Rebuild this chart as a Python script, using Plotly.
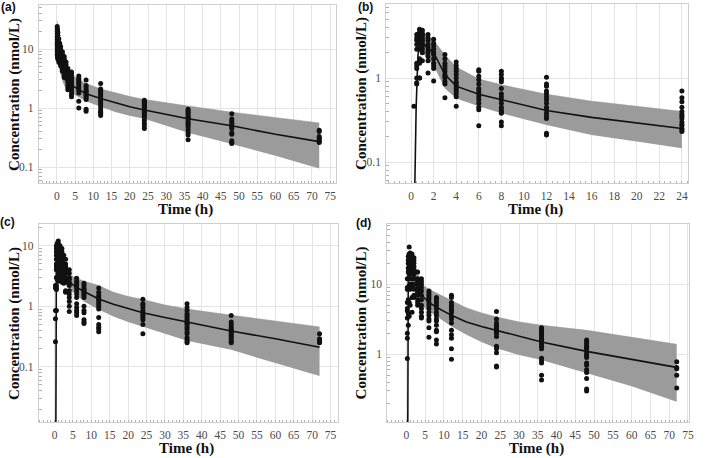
import plotly.graph_objects as go

# ---------------- Panel (a) ----------------
a_obs_times = [0.083, 0.167, 0.25, 0.5, 0.75, 1, 1.5, 2, 2.5, 3, 4, 6, 8, 12, 24, 36, 48, 72]
a_obs_conc = [
    [24, 22, 20, 18, 16, 14.5, 13, 12, 11, 10, 9, 8],
    [21, 19, 17, 15, 13.5, 12, 11, 10, 9, 8, 7.2],
    [19, 17, 15, 13, 12, 11, 10, 9, 8.2, 7.5, 6.8],
    [15, 13, 12, 11, 10, 9, 8.2, 7.5, 7, 6.5, 6],
    [12.5, 11, 10, 9.2, 8.5, 8, 7.4, 6.8, 6.3, 5.8],
    [11, 10, 9, 8.3, 7.7, 7.1, 6.6, 6.1, 5.6, 5.2],
    [9, 8.2, 7.5, 6.9, 6.4, 5.9, 5.4, 5, 4.6, 4.2],
    [7.5, 6.8, 6.2, 5.7, 5.2, 4.8, 4.4, 4, 3.6, 3.3],
    [6, 5.4, 4.8, 4.3, 3.9, 3.5, 3.2],
    [4.7, 4.3, 4, 3.7, 3.4, 3.1, 2.9, 2.7, 2.4, 2.2, 2.05],
    [4.1, 3.8, 3.5, 3.2, 3.0, 2.8, 2.5, 2.3, 2.1, 1.9, 1.7, 1.55],
    [3.5, 3.2, 3.0, 2.8, 2.6, 2.4, 2.2, 2.0, 1.8, 1.3, 1.0],
    [3.0, 2.4, 2.2, 2.0, 1.9, 1.8, 1.7, 1.6, 1.5, 1.4, 0.95, 0.88],
    [2.6, 2.1, 2.0, 1.9, 1.8, 1.7, 1.6, 1.5, 1.4, 1.3, 1.2, 1.1, 1.0, 0.9, 0.85, 0.8, 0.75],
    [1.35, 1.3, 1.25, 1.2, 1.15, 1.1, 1.05, 1.0, 0.95, 0.9, 0.85, 0.8, 0.75, 0.7, 0.62, 0.55, 0.5, 0.45],
    [0.95, 0.9, 0.85, 0.8, 0.75, 0.7, 0.68, 0.65, 0.6, 0.55, 0.52, 0.48, 0.43, 0.38, 0.35, 0.29],
    [0.8, 0.65, 0.6, 0.55, 0.5, 0.48, 0.45, 0.38, 0.36, 0.28, 0.26, 0.25],
    [0.42, 0.4, 0.33, 0.31, 0.3, 0.28, 0.27, 0.26],
]
a_pred_t = [0.083, 0.25, 0.5, 0.75, 1, 1.5, 2, 3, 4, 6, 8, 12, 16, 20, 24, 30, 36, 48, 60, 72]
a_med = [16, 12, 8.5, 6.8, 5.6, 4.3, 3.5, 2.8, 2.45, 2.05, 1.75, 1.45, 1.22, 1.05, 0.93, 0.78, 0.66, 0.5, 0.36, 0.27]
a_band_t = a_pred_t
a_hi = [30, 22, 15, 11.5, 9.5, 7.2, 5.8, 4.4, 3.7, 3.0, 2.6, 2.1, 1.8, 1.57, 1.4, 1.22, 1.08, 0.85, 0.7, 0.56]
a_lo = [9, 6.8, 5, 4.2, 3.6, 2.9, 2.4, 1.95, 1.78, 1.5, 1.3, 1.05, 0.86, 0.74, 0.66, 0.5, 0.38, 0.245, 0.155, 0.095]

# ---------------- Panel (b) ----------------
b_obs_times = [0.25, 0.5, 0.75, 1, 1.5, 2, 3, 4, 6, 8, 12, 24]
b_obs_conc = [
    [0.46],
    [3.3, 3.0, 2.8, 2.5, 2.2, 1.5, 1.4, 1.3, 1.0, 0.88, 0.85],
    [3.8, 3.5, 3.3, 3.0, 2.8, 2.5, 2.2, 1.7, 1.5, 1.0, 1.0],
    [3.7, 3.4, 3.2, 3.0, 2.8, 2.6, 2.4, 2.2, 2.0, 1.6],
    [3.3, 3.0, 2.8, 2.5, 2.3, 2.1, 2.0, 1.8, 1.6, 1.15],
    [2.9, 2.6, 2.4, 2.2, 2.0, 1.9, 1.7, 1.5, 1.4, 1.3, 0.92],
    [1.9, 1.7, 1.5, 1.4, 1.3, 1.2, 1.1, 1.05, 1.0, 0.9, 0.85, 0.58],
    [1.55, 1.4, 1.3, 1.2, 1.1, 1.0, 0.9, 0.85, 0.8, 0.75, 0.7, 0.65, 0.6, 0.46],
    [1.25, 1.2, 1.05, 0.95, 0.85, 0.75, 0.7, 0.65, 0.6, 0.55, 0.5, 0.45, 0.42, 0.27],
    [1.2, 1.1, 1.0, 0.95, 0.9, 0.75, 0.65, 0.6, 0.55, 0.5, 0.45, 0.42, 0.4, 0.38, 0.3, 0.27],
    [1.02, 0.85, 0.8, 0.7, 0.65, 0.6, 0.55, 0.5, 0.45, 0.42, 0.38, 0.35, 0.33, 0.22, 0.21],
    [0.7, 0.58, 0.52, 0.45, 0.4, 0.37, 0.35, 0.33, 0.3, 0.28, 0.27, 0.25, 0.24, 0.23],
]
b_pred_t = [0.3, 0.45, 0.6, 0.7, 0.75, 1, 1.5, 2, 3, 4, 6, 8, 12, 16, 20, 24]
b_med = [0.03, 0.45, 1.8, 2.7, 2.75, 2.6, 2.3, 2.0, 1.1, 0.8, 0.64, 0.55, 0.41, 0.34, 0.29, 0.25]
b_band_t = [0.75, 1, 1.5, 2, 3, 4, 6, 8, 12, 16, 20, 24]
b_hi = [3.6, 3.5, 3.2, 2.8, 1.88, 1.35, 0.97, 0.83, 0.64, 0.53, 0.46, 0.40]
b_lo = [2.0, 2.0, 1.7, 1.4, 0.75, 0.57, 0.46, 0.38, 0.275, 0.21, 0.175, 0.146]

# ---------------- Panel (c) ----------------
c_obs_times = [0.25, 0.5, 0.75, 1, 1.5, 2, 2.5, 3, 4, 6, 8, 12, 24, 36, 48, 72]
c_obs_conc = [
    [0.26, 0.62, 0.85, 2.0, 2.2],
    [10, 9, 8, 7, 6, 5, 4.5, 4, 3, 2.2, 2.0, 1.9, 0.85],
    [11, 10, 9, 8, 7, 6, 5, 4, 3, 2.8],
    [12, 11, 10, 9, 8, 7, 6, 5, 4.5, 4, 3.5, 2.6],
    [10, 9, 8, 7, 6, 5, 4.5, 4, 3.3, 2.7],
    [9, 8, 7, 6.5, 5.5, 5, 4.5, 4, 3.5, 3, 2.5],
    [7, 6, 5, 4, 3, 2.4],
    [6, 5, 4.5, 4, 3.5, 3, 2.8, 2.5, 1.8, 1.7],
    [4, 3.5, 3, 2.8, 2.5, 2.2, 1.8, 1.6, 1.4, 1.2, 1.0, 0.82],
    [2.9, 2.6, 2.4, 2.2, 2.0, 1.8, 1.6, 1.4, 1.1, 0.95, 0.85, 0.78, 0.7],
    [2.4, 2.2, 2.0, 1.9, 1.8, 1.7, 1.6, 1.5, 1.4, 1.0, 0.85, 0.78, 0.6, 0.55, 0.52],
    [2.0, 1.7, 1.5, 1.4, 1.3, 1.2, 1.1, 1.0, 0.9, 0.65, 0.5, 0.45, 0.42, 0.38],
    [1.3, 1.1, 1.05, 0.95, 0.85, 0.75, 0.7, 0.65, 0.6, 0.5, 0.35],
    [1.1, 0.95, 0.85, 0.75, 0.7, 0.65, 0.6, 0.55, 0.52, 0.5, 0.45, 0.42, 0.38, 0.35, 0.3, 0.28, 0.26, 0.25],
    [0.7, 0.55, 0.5, 0.45, 0.42, 0.4, 0.38, 0.36, 0.34, 0.32, 0.3, 0.28, 0.26, 0.25],
    [0.35, 0.29, 0.27, 0.26, 0.25],
]
c_pred_t = [0.25, 0.5, 1, 1.5, 2, 3, 4, 6, 8, 12, 16, 20, 24, 30, 36, 48, 60, 72]
c_med = [0.0001, 6, 6.5, 5.5, 4.5, 3.2, 2.5, 2.05, 1.75, 1.32, 1.08, 0.91, 0.78, 0.65, 0.55, 0.39, 0.29, 0.21]
c_band_t = [1, 1.5, 2, 3, 4, 6, 8, 12, 16, 20, 24, 30, 36, 48, 60, 72]
c_hi = [9, 8, 7, 4.5, 3.3, 2.9, 2.6, 2.2, 1.7, 1.45, 1.29, 1.05, 0.9, 0.71, 0.57, 0.455]
c_lo = [4.5, 3.8, 3.2, 2.3, 1.93, 1.5, 1.2, 0.88, 0.68, 0.55, 0.46, 0.35, 0.27, 0.19, 0.115, 0.07]

# ---------------- Panel (d) ----------------
d_obs_times = [0.25, 0.5, 0.75, 1, 1.5, 2, 3, 4, 6, 8, 12, 24, 36, 48, 72]
d_obs_conc = [
    [0.87, 1.7, 2.0, 3.3, 4.2, 4.5, 5.5, 8.5, 9, 12],
    [2.6, 3.8, 6, 8.5, 12, 15, 17, 20, 22, 25],
    [34, 27, 25, 22, 20, 18, 16, 14, 12, 9.5, 5.5, 3.5],
    [28, 26, 24, 22, 20, 18, 16, 14, 12, 10, 8.5, 5],
    [27, 25, 22, 20, 18, 16, 14, 12, 10, 9, 6.5, 4],
    [24, 22, 20, 18, 16, 14, 12, 10, 8.5, 7, 6.5],
    [15, 12, 11, 10, 9, 8, 7.5, 7, 6, 5.5, 5],
    [12, 11, 10, 9, 8, 7, 6, 5, 4.5, 4, 3.5, 3.3],
    [8, 7.5, 7, 6.5, 6, 5.5, 5, 4.5, 4, 3.6, 3.2, 3, 2.4, 1.75],
    [6.5, 6.2, 6, 5.5, 5, 4.5, 4, 3.6, 3.2, 3, 2.6, 2.2, 2.1, 1.6, 1.4],
    [7, 6.5, 5.5, 5, 4.7, 4.4, 4.2, 4, 3.5, 3.2, 2.8, 2.2, 1.9, 1.7, 1.2, 0.85],
    [4.1, 3.2, 2.8, 2.6, 2.5, 2.4, 2.3, 2.2, 2.1, 2.0, 1.8, 1.3, 1.2, 1.05, 0.68, 0.66],
    [2.4, 2.3, 2.2, 2.1, 2.0, 1.9, 1.8, 1.7, 1.6, 1.5, 1.4, 1.3, 1.2, 0.88, 0.8, 0.75, 0.5, 0.43],
    [1.6, 1.5, 1.4, 1.3, 1.25, 1.2, 1.1, 1.0, 0.95, 0.9, 0.75, 0.7, 0.6, 0.55, 0.45, 0.32, 0.3],
    [0.78, 0.65, 0.62, 0.5, 0.33],
]
d_pred_t = [0.25, 0.5, 1, 1.5, 2, 3, 4, 6, 8, 12, 16, 20, 24, 30, 36, 48, 60, 72]
d_med = [0.001, 12, 17, 16, 14, 10, 7.0, 5.5, 4.7, 3.6, 2.9, 2.5, 2.2, 1.8, 1.5, 1.1, 0.85, 0.65]
d_band_t = [1, 1.5, 2, 3, 4, 6, 8, 12, 16, 20, 24, 30, 36, 48, 60, 72]
d_hi = [26, 24, 21, 14, 10, 8.5, 7.5, 6.0, 4.6, 3.9, 3.4, 2.9, 2.6, 2.2, 1.75, 1.39]
d_lo = [10, 9.5, 8.5, 6, 5, 4.1, 3.5, 2.5, 1.9, 1.5, 1.22, 0.98, 0.83, 0.54, 0.35, 0.21]

x_ticks_72 = list(range(0, 76, 5))
x_ticks_24 = list(range(0, 25, 2))
y_tick_vals = [0.1, 1, 10]
y_tick_text = ["0.1", "1", "10"]
panel_labels = ["(a)", "(b)", "(c)", "(d)"]
x_title = "Time (h)"
y_title = "Concentration (nmol/L)"

W, H = 709, 458
fig = go.Figure()

panels = [
    dict(obs_t=a_obs_times, obs_c=a_obs_conc, pt=a_pred_t, med=a_med, bt=a_band_t, hi=a_hi, lo=a_lo),
    dict(obs_t=b_obs_times, obs_c=b_obs_conc, pt=b_pred_t, med=b_med, bt=b_band_t, hi=b_hi, lo=b_lo),
    dict(obs_t=c_obs_times, obs_c=c_obs_conc, pt=c_pred_t, med=c_med, bt=c_band_t, hi=c_hi, lo=c_lo),
    dict(obs_t=d_obs_times, obs_c=d_obs_conc, pt=d_pred_t, med=d_med, bt=d_band_t, hi=d_hi, lo=d_lo),
]

# plot-area boxes in pixels: (left, top, right, bottom)
boxes = [(39, 5, 338, 183), (389, 4, 693, 183), (39, 224, 340, 422), (390, 224, 694, 422)]
x_ranges = [[-5, 76.5], [-2.2, 24.55], [-4.3, 76.9], [-5.1, 75.3]]
y_ranges = [[-1.27, 1.746], [-1.25, 0.881], [-1.914, 1.36], [-0.967, 1.861]]
x_tickvals = [x_ticks_72, x_ticks_24, x_ticks_72, x_ticks_72]
x_minor = [1, 0.5, 1, 1]

minor_y = [m * 10 ** e for e in range(-3, 3) for m in range(2, 10)]

serif = "Liberation Serif, Times New Roman, serif"
tickfont = dict(family=serif, size=11.5, color="#4a4a4a")

for i, p in enumerate(panels):
    n = "" if i == 0 else str(i + 1)
    xr, yr = "x" + n, "y" + n
    # band
    fig.add_trace(go.Scatter(x=p["bt"], y=p["lo"], mode="lines", line=dict(width=0, color="rgba(0,0,0,0)"),
                             xaxis=xr, yaxis=yr, showlegend=False, hoverinfo="skip"))
    fig.add_trace(go.Scatter(x=p["bt"], y=p["hi"], mode="lines", line=dict(width=0.5, color="#8f8f8f"),
                             fill="tonexty", fillcolor="rgb(155,155,155)",
                             xaxis=xr, yaxis=yr, showlegend=False, hoverinfo="skip"))
    # observations
    xs, ys = [], []
    for t, cs in zip(p["obs_t"], p["obs_c"]):
        for c in cs:
            xs.append(t)
            ys.append(c)
    fig.add_trace(go.Scatter(x=xs, y=ys, mode="markers", marker=dict(size=5, color="#111111"),
                             xaxis=xr, yaxis=yr, showlegend=False, cliponaxis=True))
    # median
    fig.add_trace(go.Scatter(x=p["pt"], y=p["med"], mode="lines", line=dict(width=1.6, color="#111111"),
                             xaxis=xr, yaxis=yr, showlegend=False))

    l, t, r, b = boxes[i]
    fig.layout["xaxis" + n] = dict(
        domain=[l / W, r / W], anchor=yr, range=x_ranges[i],
        tickmode="array", tickvals=x_tickvals[i], tickfont=tickfont,
        showgrid=True, gridcolor="#e4e4e4", gridwidth=1, zeroline=False,
        showline=True, linecolor="#cfcfcf", linewidth=1, mirror=True, ticks="",
        minor=dict(ticks="inside", ticklen=2, tickcolor="#b0b0b0", dtick=x_minor[i], showgrid=False),
        ticklabelstandoff=2,
    )
    fig.layout["yaxis" + n] = dict(
        domain=[1 - b / H, 1 - t / H], anchor=xr, type="log", range=y_ranges[i],
        tickmode="array", tickvals=y_tick_vals, ticktext=y_tick_text, tickfont=tickfont,
        showgrid=True, gridcolor="#e4e4e4", gridwidth=1, zeroline=False,
        showline=True, linecolor="#cfcfcf", linewidth=1, mirror=True, ticks="",
        minor=dict(ticks="inside", ticklen=3, tickcolor="#b0b0b0", tickmode="array",
                   tickvals=minor_y, showgrid=False),
        ticklabelstandoff=2,
    )

annotations = []
title_font = dict(family=serif, size=15, color="#111111")
label_font = dict(family="Liberation Sans, Arial, sans-serif", size=12, color="#111111")
label_pos = [(9, 7), (368, 7), (8, 222), (366, 223)]
for i, (l, t, r, b) in enumerate(boxes):
    ytx = 14 if l < 200 else 364
    annotations.append(dict(text="<b>" + y_title + "</b>", x=ytx / W, y=1 - ((t + b) / 2) / H,
                            xref="paper", yref="paper", showarrow=False, textangle=-90,
                            font=title_font, xanchor="center", yanchor="middle"))
    annotations.append(dict(text="<b>" + x_title + "</b>", x=((l + r) / 2 - 2) / W, y=1 - (b + 26) / H,
                            xref="paper", yref="paper", showarrow=False,
                            font=title_font, xanchor="center", yanchor="middle"))
    lx, ly = label_pos[i]
    annotations.append(dict(text="<b>" + panel_labels[i] + "</b>", x=lx / W, y=1 - ly / H,
                            xref="paper", yref="paper", showarrow=False,
                            font=label_font, xanchor="center", yanchor="middle"))

fig.update_layout(
    width=W, height=H, margin=dict(l=0, r=0, t=0, b=0),
    paper_bgcolor="white", plot_bgcolor="white",
    annotations=annotations, showlegend=False,
)

fig.write_html("out.html", config={"displayModeBar": False},
               post_script="document.body.style.margin='0px';document.body.style.overflow='hidden';")
